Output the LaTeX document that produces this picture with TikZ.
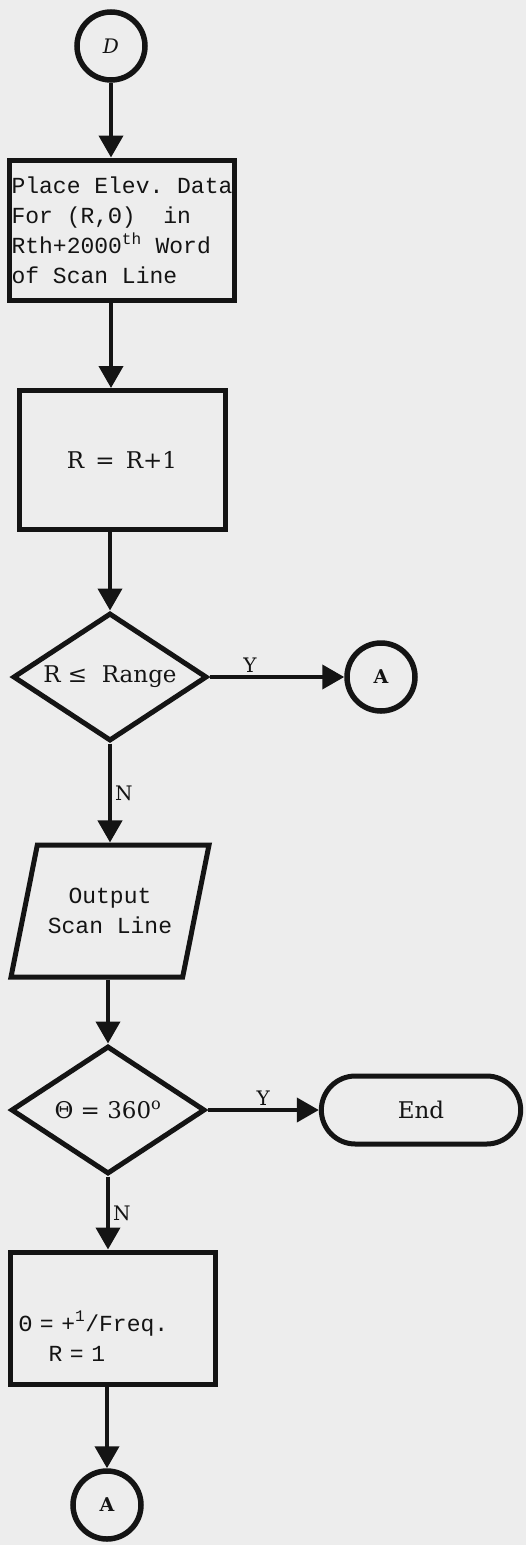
\documentclass[tikz,border=0pt]{standalone}
\usepackage{fontspec}
\setmainfont{DejaVu Serif}
\setmonofont{Liberation Mono}
\usetikzlibrary{arrows.meta, shapes.geometric, shapes.misc}
\definecolor{ink}{HTML}{141414}
\definecolor{paper}{HTML}{EDEDED}

\begin{document}
\begin{tikzpicture}[
    x=1pt, y=-1pt,
    every node/.style={text=ink},
    tw/.style={font=\fontsize{23}{30}\selectfont\ttfamily},
    rm/.style={font=\fontsize{23}{28}\selectfont},
    lab/.style={font=\fontsize{20}{24}\selectfont, text=ink, inner sep=3pt},
    procbox/.style={rectangle, draw=ink, line width=5pt, inner sep=2pt},
    iobox/.style={trapezium, trapezium left angle=60, trapezium right angle=120,
                  trapezium stretches body=true, draw=ink, line width=5pt,
                  minimum width=198pt, minimum height=132pt, inner sep=0pt},
    test/.style={diamond, aspect=1.5, draw=ink, line width=5pt, inner sep=0pt,
                 minimum width=194pt, minimum height=128pt},
    term/.style={rounded rectangle, draw=ink, line width=5pt,
                 minimum width=206pt, minimum height=68pt},
    conn/.style={circle, draw=ink, line width=5.5pt, minimum size=68pt, inner sep=0pt},
    arr/.style={-{Triangle[length=22pt, width=24pt]}, line width=4pt, color=ink},
]

\fill[paper] (0,0) rectangle (526,1545);
\useasboundingbox (0,0) rectangle (526,1545);

% ================================================================ nodes
\node[conn, font=\fontsize{20}{22}\selectfont\itshape] (D) at (111,46) {D};

\node[procbox, tw, align=left, minimum width=224pt, minimum height=140pt] (place) at (122,230)
     {Place Elev. Data\\ For (R,Θ)\ \ in\\ Rth+2000\textsuperscript{th} Word\\ of Scan Line};

\node[procbox, rm, minimum width=206pt, minimum height=139pt] (incr) at (122,460)
     {R\ \,=\ \,R+1};

\node[test, rm] (inrange) at (110,677) {R ≤\ \ Range};
\node[conn, font=\fontsize{19}{22}\selectfont\bfseries] (Aright) at (381,677) {A};

\node[iobox, tw, align=center] (outline) at (110,911) {Output\\ Scan Line};

\node[test, rm] (fullturn) at (108,1110) {Θ = 360\textsuperscript{o}};
\node[term, rm] (stop) at (421,1110) {End};

\node[procbox, tw, align=left, text width=189pt, inner sep=8pt,
      minimum width=205pt, minimum height=132pt] (nextang) at (113,1318)
     {\strut\\[14pt] Θ = +\textsuperscript{1}/Freq.\\ \hspace*{30pt}R = 1\strut};

\node[conn, font=\fontsize{19}{22}\selectfont\bfseries] (Adown) at (107,1505) {A};

% ================================================================ connectors
\draw[arr] (D) -- (D |- place.north);
\draw[arr] (place.south -| D) -- (incr.north -| D);
\draw[arr] (incr.south -| inrange) -- (inrange.north);
\draw[arr] (inrange.east) -- node[lab, above, pos=0.3] {Y} (Aright);
\draw[arr] (inrange.south) -- node[lab, right] {N} (outline.north -| inrange);
\draw[arr] (outline.south -| fullturn) -- (fullturn.north);
\draw[arr] (fullturn.east) -- node[lab, above] {Y} (stop.west);
\draw[arr] (fullturn.south) -- node[lab, right] {N} (nextang.north -| fullturn);
\draw[arr] (nextang.south -| Adown) -- (Adown);

\end{tikzpicture}
\end{document}
